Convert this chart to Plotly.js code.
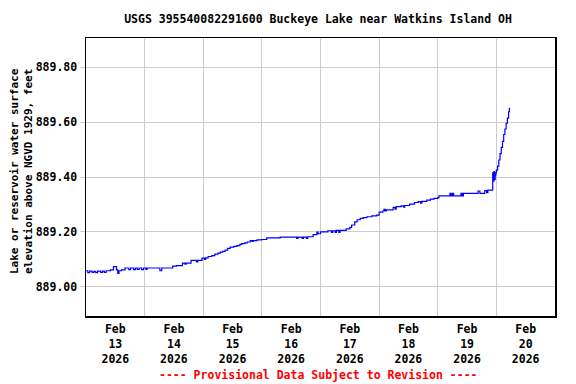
<!DOCTYPE html>
<html>
<head>
<meta charset="utf-8">
<script src="https://cdn.plot.ly/plotly-3.0.1.min.js"></script>
<style>html,body{margin:0;padding:0;background:#fff;}#chart{width:576px;height:384px;}</style>
</head>
<body>
<div id="chart"></div>
<script>
var chartTitle = "USGS 395540082291600 Buckeye Lake near Watkins Island OH";
var yTitleLines = ["Lake or reservoir water surface", "elevation above NGVD 1929, feet"];
var footerText = "---- Provisional Data Subject to Revision ----";
var yTickVals = [889.0, 889.2, 889.4, 889.6, 889.8];
var yTickText = ["889.00", "889.20", "889.40", "889.60", "889.80"];
var xRange = ["2026-02-13 00:00", "2026-02-21 00:00"];
var yRange = [888.893, 889.907];

var times = [
"2026-02-13 00:00","2026-02-13 00:45","2026-02-13 01:30","2026-02-13 02:30","2026-02-13 03:15","2026-02-13 04:00","2026-02-13 04:45","2026-02-13 06:00","2026-02-13 06:45","2026-02-13 07:30","2026-02-13 08:15","2026-02-13 10:00","2026-02-13 11:15","2026-02-13 12:30","2026-02-13 13:00","2026-02-13 13:30","2026-02-13 14:30","2026-02-13 16:00","2026-02-13 17:30","2026-02-13 18:15","2026-02-13 19:30","2026-02-13 20:15","2026-02-13 21:00","2026-02-13 21:45","2026-02-13 22:45","2026-02-13 23:30",
"2026-02-14 00:30","2026-02-14 01:00","2026-02-14 06:15","2026-02-14 07:00","2026-02-14 11:30","2026-02-14 13:00","2026-02-14 15:30","2026-02-14 16:30","2026-02-14 17:00","2026-02-14 19:00","2026-02-14 21:15","2026-02-14 21:45","2026-02-14 23:30",
"2026-02-15 00:30","2026-02-15 01:00","2026-02-15 02:00","2026-02-15 03:30","2026-02-15 04:45","2026-02-15 06:00","2026-02-15 07:00","2026-02-15 08:00","2026-02-15 09:00","2026-02-15 10:00","2026-02-15 11:00","2026-02-15 12:30","2026-02-15 13:45","2026-02-15 15:00","2026-02-15 15:45","2026-02-15 17:00","2026-02-15 18:00","2026-02-15 19:15","2026-02-15 20:00","2026-02-15 20:30","2026-02-15 22:00",
"2026-02-16 00:00","2026-02-16 02:00","2026-02-16 07:30","2026-02-16 14:15","2026-02-16 14:45","2026-02-16 16:30","2026-02-16 17:00","2026-02-16 18:15","2026-02-16 18:45","2026-02-16 21:00","2026-02-16 22:30","2026-02-16 23:00",
"2026-02-17 00:00","2026-02-17 03:00","2026-02-17 04:30","2026-02-17 05:00","2026-02-17 06:00","2026-02-17 06:30","2026-02-17 07:30","2026-02-17 08:00","2026-02-17 10:30","2026-02-17 12:00","2026-02-17 12:45","2026-02-17 14:00","2026-02-17 15:00","2026-02-17 16:15","2026-02-17 17:30","2026-02-17 19:00","2026-02-17 21:00","2026-02-17 23:00",
"2026-02-18 00:00","2026-02-18 01:30","2026-02-18 02:00","2026-02-18 02:30","2026-02-18 03:00","2026-02-18 05:45","2026-02-18 06:30","2026-02-18 07:00","2026-02-18 09:00","2026-02-18 10:00","2026-02-18 10:30","2026-02-18 12:30","2026-02-18 14:30","2026-02-18 16:00","2026-02-18 17:00","2026-02-18 17:30","2026-02-18 19:30","2026-02-18 21:00","2026-02-18 22:30",
"2026-02-19 00:00","2026-02-19 00:30","2026-02-19 04:45","2026-02-19 05:00","2026-02-19 05:30","2026-02-19 06:00","2026-02-19 06:30","2026-02-19 09:30","2026-02-19 10:00","2026-02-19 10:30","2026-02-19 13:30","2026-02-19 16:30","2026-02-19 17:15","2026-02-19 19:15","2026-02-19 20:00","2026-02-19 20:30","2026-02-19 22:15","2026-02-19 22:30","2026-02-19 22:45","2026-02-19 23:00","2026-02-19 23:15","2026-02-19 23:30","2026-02-19 23:45",
"2026-02-20 00:00","2026-02-20 00:30","2026-02-20 01:00","2026-02-20 01:30","2026-02-20 02:00","2026-02-20 02:30","2026-02-20 03:00","2026-02-20 03:30","2026-02-20 04:00","2026-02-20 04:30","2026-02-20 05:00","2026-02-20 05:20"
];
var elevation = [
889.058,889.051,889.057,889.052,889.056,889.051,889.057,889.052,889.057,889.052,889.058,889.061,889.073,889.061,889.048,889.058,889.061,889.068,889.062,889.068,889.062,889.068,889.063,889.068,889.062,889.068,
889.063,889.068,889.058,889.068,889.075,889.077,889.086,889.082,889.086,889.096,889.090,889.096,889.104,
889.099,889.105,889.110,889.113,889.119,889.122,889.126,889.129,889.133,889.140,889.144,889.147,889.150,889.154,889.157,889.160,889.163,889.168,889.165,889.168,889.171,
889.172,889.178,889.181,889.176,889.181,889.176,889.181,889.176,889.182,889.190,889.199,889.193,
889.200,889.204,889.198,889.204,889.198,889.205,889.198,889.205,889.211,889.216,889.225,889.236,889.244,889.249,889.252,889.255,889.258,889.261,
889.272,889.276,889.282,889.276,889.280,889.289,889.283,889.292,889.295,889.290,889.296,889.301,889.307,889.310,889.305,889.311,889.316,889.319,889.322,
889.325,889.331,889.331,889.340,889.331,889.340,889.331,889.340,889.331,889.340,889.340,889.349,889.340,889.350,889.343,889.352,889.352,889.415,889.385,889.420,889.390,889.405,889.415,
889.425,889.440,889.462,889.485,889.508,889.530,889.555,889.575,889.596,889.615,889.638,889.653
];

var monoFont = "DejaVu Sans Mono, Liberation Mono, monospace";

var trace = {
  x: times, y: elevation, type: "scatter", mode: "lines",
  line: {color: "#0000ff", width: 1.2, shape: "hv"},
  hoverinfo: "skip"
};

var layout = {
  width: 576, height: 384,
  margin: {l: 86, r: 21, t: 38, b: 68, pad: 0},
  paper_bgcolor: "#ffffff", plot_bgcolor: "#ffffff",
  showlegend: false,
  font: {family: monoFont, size: 11.5, color: "#000", weight: "bold"},
  title: {
    text: chartTitle, x: 318/576, xanchor: "center", xref: "container",
    y: 1 - 19/384, yanchor: "middle", yref: "container",
    font: {family: monoFont, size: 11.5, color: "#000", weight: "bold"}
  },
  xaxis: {
    type: "date", range: xRange, dtick: 86400000, tick0: "2026-02-13",
    ticklabelmode: "period", tickformat: "%b<br>%d<br>%Y",
    ticklabelstandoff: 2,
    showgrid: true, gridcolor: "#cccccc", gridwidth: 1,
    showline: true, linecolor: "#000", linewidth: 1.5, mirror: true,
    ticks: "", zeroline: false,
    tickfont: {family: monoFont, size: 11.5, color: "#000", weight: "bold"}
  },
  yaxis: {
    range: yRange, tickvals: yTickVals, ticktext: yTickText,
    showgrid: true, gridcolor: "#cccccc", gridwidth: 1,
    showline: true, linecolor: "#000", linewidth: 1.5, mirror: true,
    ticks: "outside", ticklen: 5, tickcolor: "#cccccc", zeroline: false,
    tickfont: {family: monoFont, size: 11.5, color: "#000", weight: "bold"}
  },
  annotations: [
    {
      text: yTitleLines.join("<br>"), textangle: -90, showarrow: false,
      xref: "paper", yref: "paper", x: (21-86)/469, y: (316-171)/278,
      xanchor: "center", yanchor: "middle",
      font: {family: monoFont, size: 11, color: "#000", weight: "bold"}
    },
    {
      text: footerText, showarrow: false,
      xref: "paper", yref: "paper", x: (318-86)/469, y: -(375-316)/278,
      xanchor: "center", yanchor: "middle",
      font: {family: monoFont, size: 11.5, color: "#ff0000", weight: "bold"}
    }
  ]
};

Plotly.newPlot("chart", [trace], layout, {staticPlot: true, displayModeBar: false});
</script>
</body>
</html>
